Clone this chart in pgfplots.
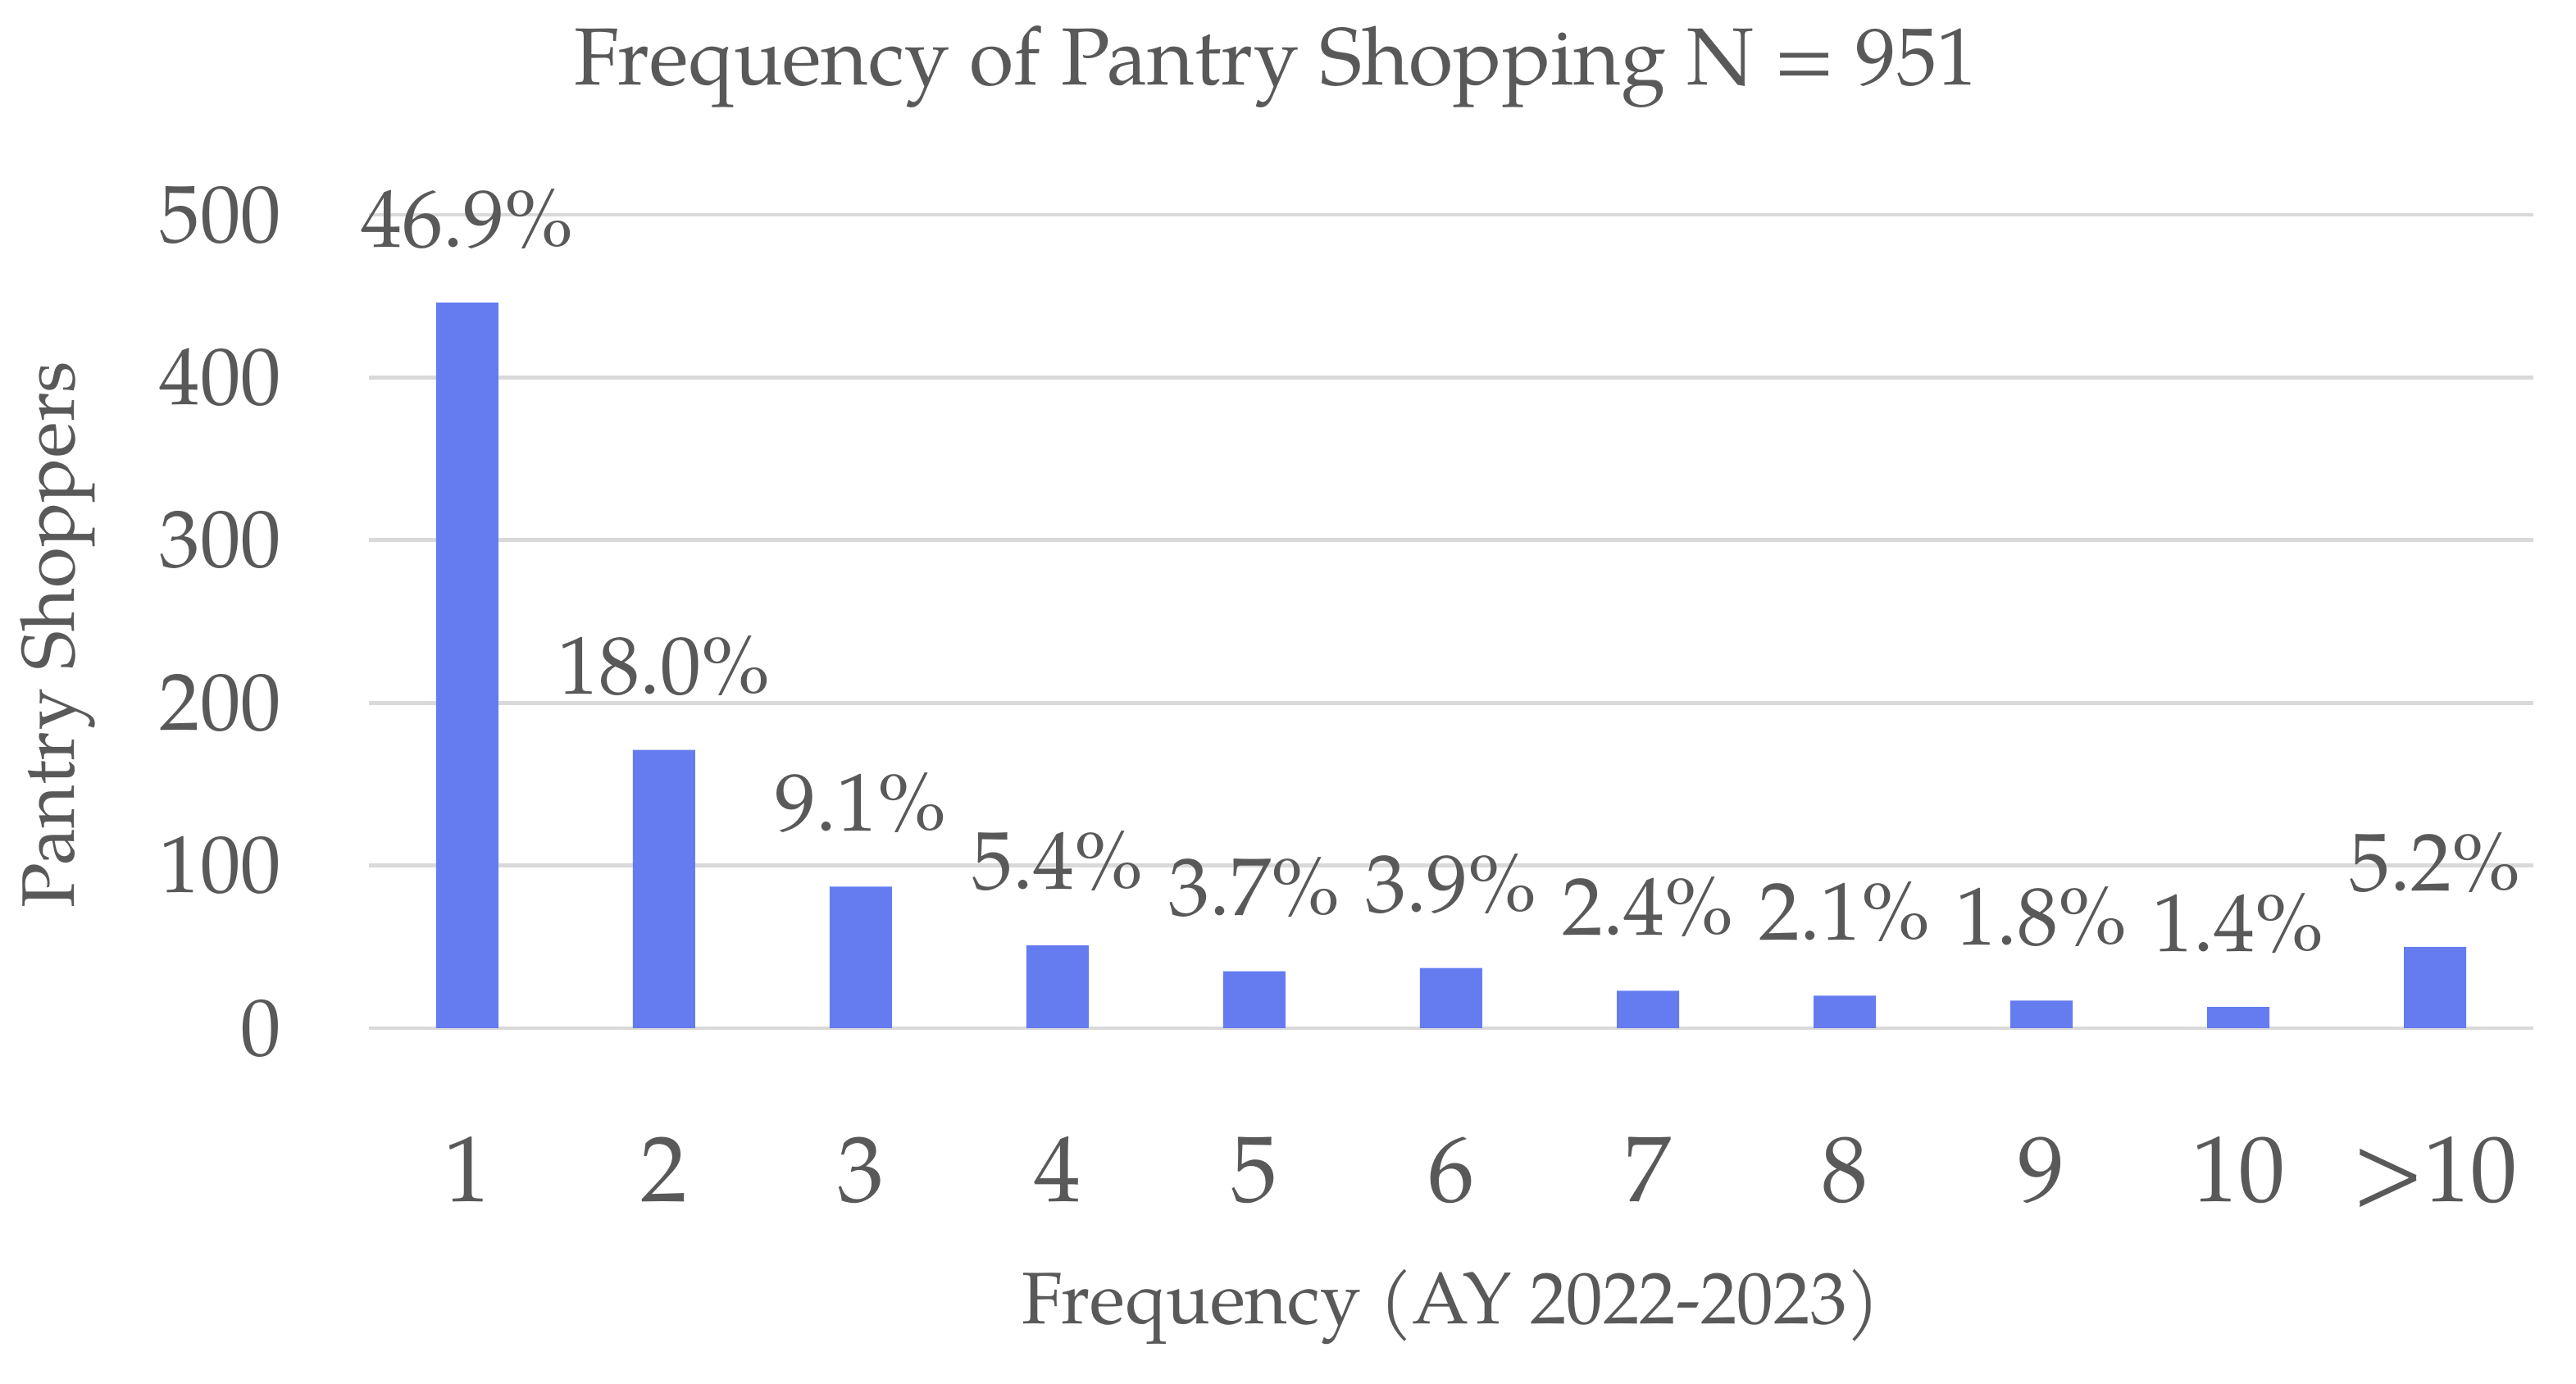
\documentclass[border=0pt]{standalone}
\usepackage{pgfplots}
\pgfplotsset{compat=1.18}
\usepackage{fontspec}
\setmainfont{TeX Gyre Pagella}
\definecolor{barblue}{HTML}{647CF0}
\definecolor{txtgray}{HTML}{595959}
\definecolor{gridgray}{HTML}{D9D9D9}
\begin{document}
\begin{tikzpicture}
\begin{axis}[
  scale only axis,
  width=660pt, height=248pt,
  xmin=-0.5, xmax=10.5, ymin=0, ymax=500,
  ybar, bar width=19pt,
  xtick={0,1,2,3,4,5,6,7,8,9,10},
  xticklabels={1,2,3,4,5,6,7,8,9,10,{>10}},
  ytick={0,100,200,300,400,500},
  /pgf/number format/assume math mode=true,
  axis line style={draw=none},
  tick style={draw=none},
  ymajorgrids,
  major grid style={draw=gridgray, line width=1.2pt},
  xticklabel style={font=\fontsize{28.5}{30}\selectfont, text=txtgray, anchor=base, inner sep=0pt, yshift=-48.5pt},
  yticklabel style={font=\fontsize{24.7}{26}\selectfont, text=txtgray, anchor=east, inner sep=0pt, xshift=-26.5pt},
  xlabel={Frequency (AY 2022-2023)},
  ylabel={Pantry Shoppers},
  xlabel style={font=\fontsize{22.3}{24}\selectfont, text=txtgray, at={(axis description cs:0.5,-0.3427)}, anchor=center, inner sep=0pt},
  ylabel style={font=\fontsize{22.7}{24}\selectfont, text=txtgray, at={(axis description cs:-0.1439,0.484)}, anchor=center, inner sep=0pt},
  point meta=explicit symbolic,
  nodes near coords,
  every node near coord/.append style={font=\fontsize{25}{27}\selectfont, text=txtgray, anchor=base, inner sep=0pt, yshift=17pt},
  clip=false,
]
\addplot[fill=barblue, draw=none] coordinates {
  (0,446) [46.9\%]
  (1,171) [18.0\%]
  (2,87) [9.1\%]
  (3,51) [5.4\%]
  (4,35) [3.7\%]
  (5,37) [3.9\%]
  (6,23) [2.4\%]
  (7,20) [2.1\%]
  (8,17) [1.8\%]
  (9,13) [1.4\%]
  (10,50) [5.2\%]
};
\coordinate (o) at (rel axis cs:0,0);
\node[font=\fontsize{24.7}{26}\selectfont, text=txtgray, anchor=center, inner sep=0pt] at ([yshift=45pt]rel axis cs:0.419,1) {Frequency of Pantry Shopping N = 951};
\end{axis}
\pgfresetboundingbox
\path[use as bounding box] ([shift={(-112.5pt,-108.5pt)}]o) rectangle ([shift={(673pt,313.5pt)}]o);
\end{tikzpicture}
\end{document}
